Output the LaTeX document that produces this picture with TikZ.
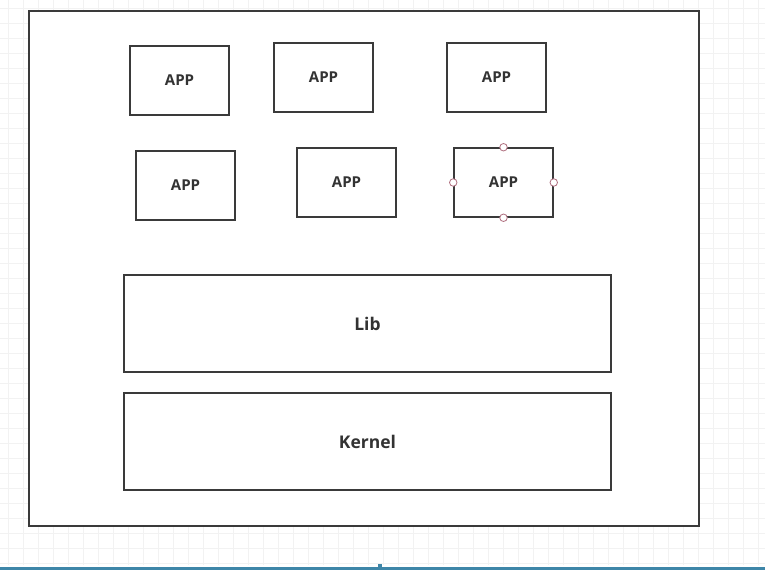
\documentclass[tikz,border=0pt]{standalone}
\usepackage{fontspec}
\setmainfont{Open Sans}
\definecolor{edge}{HTML}{3A3A3A}
\definecolor{txt}{HTML}{333333}
\definecolor{gridc}{HTML}{F2F2F2}
\definecolor{handle}{HTML}{B07080}
\definecolor{barblue}{HTML}{3E86A8}
\tikzset{
  box/.style={draw=edge, line width=1.5pt, fill=white, inner sep=0pt, font=\bfseries\fontsize{15}{17}\selectfont, text=txt},
  appbox/.style={box, minimum width=99pt, minimum height=69pt},
  layerbox/.style={box, minimum width=487pt, minimum height=97pt, font=\bfseries\fontsize{17.5}{20}\selectfont},
  hdl/.style={circle, draw=handle, fill=white, line width=0.8pt, minimum size=7.5pt, inner sep=0pt}
}
\begin{document}
\begin{tikzpicture}[x=1pt, y=-1pt]
\useasboundingbox (0,0) rectangle (765,570);
\fill[white] (0,0) rectangle (765,570);
\foreach \g in {8,23,...,765} \draw[gridc, line width=0.6pt] (\g,0) -- (\g,565);
\foreach \g in {8,23,...,565} \draw[gridc, line width=0.6pt] (0,\g) -- (765,\g);
\node[draw=edge, line width=1.5pt, fill=white, minimum width=670pt, minimum height=515pt, inner sep=0pt] (outer) at (364,268.5) {};
\node[appbox] (a1) at (179.5,80.5) {APP};
\node[appbox] (a2) at (323.5,77.5) {APP};
\node[appbox] (a3) at (496.5,77.5) {APP};
\node[appbox] (a4) at (185.5,185.5) {APP};
\node[appbox] (a5) at (346.5,182.5) {APP};
\node[appbox] (a6) at (503.5,182.5) {APP};
\node[hdl] (h1) at (a6.north) {};
\node[hdl] (h2) at (a6.south) {};
\node[hdl] (h3) at (a6.west) {};
\node[hdl] (h4) at (a6.east) {};
\node[layerbox] (lib) at (367.5,323.5) {Lib};
\node[layerbox] (kernel) at (367.5,441.5) {Kernel};
\fill[barblue] (0,566.5) rectangle (765,570);
\node[fill=barblue, minimum size=4pt, inner sep=0pt] (dot) at (380,566) {};
\end{tikzpicture}
\end{document}
